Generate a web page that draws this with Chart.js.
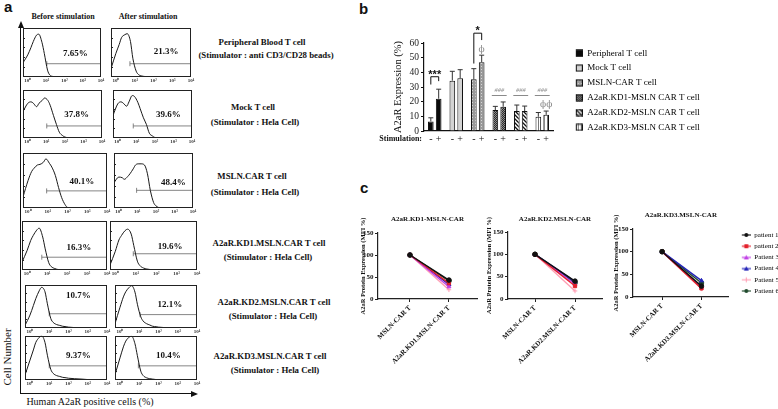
<!DOCTYPE html>
<html>
<head>
<meta charset="utf-8">
<title>A2aR expression</title>
<script src="https://cdn.jsdelivr.net/npm/chart.js@4.4.1/dist/chart.umd.min.js"></script>
<style>
  html, body { margin: 0; padding: 0; background: #fff; }
  body { position: relative; width: 778px; height: 409px; overflow: hidden; font-family: 'Liberation Serif', 'Times New Roman', serif; color: #111; }
  canvas { position: absolute; }
  .txt { position: absolute; white-space: nowrap; line-height: 1; transform: translate(-50%, -50%); }
  .letter { position: absolute; font-family: 'Liberation Sans', Arial, sans-serif; font-weight: bold; font-size: 15px; line-height: 1; }
  .line { position: absolute; background: #111; }
</style>
</head>
<body>
<div class="letter" style="left:4px;top:-1px">a</div>
<div class="letter" style="left:359px;top:1px">b</div>
<div class="letter" style="left:360px;top:180px">c</div>

<!-- panel a frame axes -->
<div class="line" style="left:20px;top:27px;width:1.2px;height:367px"></div>
<div class="line" style="left:20px;top:393px;width:172px;height:1.2px"></div>
<div style="position:absolute;left:17.6px;top:21px;width:0;height:0;border-left:3px solid transparent;border-right:3px solid transparent;border-bottom:7px solid #111"></div>
<div style="position:absolute;left:191px;top:390.6px;width:0;height:0;border-top:3px solid transparent;border-bottom:3px solid transparent;border-left:7px solid #111"></div>
<div class="txt" style="left:90px;top:402px;font-size:10px">Human A2aR positive cells (%)</div>
<div class="txt" style="left:7px;top:357px;font-size:11px;transform:translate(-50%,-50%) rotate(-90deg)">Cell Number</div>

<script>
var SERIF = "'Liberation Serif', 'Times New Roman', serif";
Chart.defaults.font.family = SERIF;
Chart.defaults.color = '#111';
Chart.defaults.animation = false;

//-------------
//- PANEL A : flow histograms -
//-------------
var channel    = [0.55, 1, 1.5, 2, 3, 4, 6, 8, 12, 16, 24, 35, 50, 75, 100, 200, 500, 1000, 10000];
var pbBefore   = [29, 45, 60, 72, 85, 87, 70, 48, 14, 4, 1, 0, 0, 0, 0, 0, 0, 0, 0];
var pbAfter    = [17, 48, 66, 80, 86, 88, 72, 38, 12, 5, 2, 1, 0, 0, 0, 0, 0, 0, 0];
var mockBefore = [55, 72, 75, 72, 65, 72, 78, 83, 78, 68, 47, 28, 12, 5, 2, 0, 0, 0, 0];
var mockAfter  = [47, 71, 75, 72, 66, 75, 88, 86, 74, 61, 42, 28, 10, 4, 1, 0, 0, 0, 0];
var mslnBefore = [20, 50, 66, 72, 78, 79, 83, 89, 81, 74, 59, 37, 19, 6, 1, 0, 0, 0, 0];
var mslnAfter  = [46, 56, 55, 52, 57, 62, 71, 78, 80, 80, 78, 62, 32, 10, 4, 0, 0, 0, 0];
var kd1Before  = [16, 40, 60, 70, 81, 85, 67, 43, 15, 7, 3, 1, 0, 0, 0, 0, 0, 0, 0];
var kd1After   = [10, 38, 61, 70, 80, 83, 73, 50, 18, 9, 4, 2, 1, 0, 0, 0, 0, 0, 0];
var kd2Before  = [6, 30, 52, 68, 86, 94, 84, 56, 22, 13, 8, 6, 4, 3, 2, 1, 0, 0, 0];
var kd2After   = [10, 48, 72, 84, 94, 98, 83, 55, 26, 16, 10, 7, 4, 3, 2, 1, 0, 0, 0];
var kd3Before  = [11, 45, 68, 85, 96, 100, 85, 56, 24, 15, 10, 8, 6, 5, 4, 3, 2, 1, 0];
var kd3After   = [12, 50, 75, 88, 97, 99, 82, 55, 20, 10, 5, 3, 2, 1, 0, 0, 0, 0, 0];

var pctBefore = ['7.65%', '37.8%', '40.1%', '16.3%', '10.7%', '9.37%'];
var pctAfter  = ['21.3%', '39.6%', '48.4%', '19.6%', '12.1%', '10.4%'];
var gateFromBefore  = [11, 10.5, 8.7, 5.4, 10, 10];
var gateFromAfter   = [5.6, 6.8, 9.1, 7.6, 11, 9];
var gateLevelBefore = [27, 25, 31, 26, 33, 32];
var gateLevelAfter  = [27, 25, 32, 33, 31, 32];

var cellLines = ['Peripheral Blood T cell', 'Mock T cell', 'MSLN.CAR T cell', 'A2aR.KD1.MSLN.CAR T cell', 'A2aR.KD2.MSLN.CAR T cell', 'A2aR.KD3.MSLN.CAR T cell'];
var stimulators = ['(Stimulator : anti CD3/CD28 beads)', '(Stimulator : Hela Cell)', '(Stimulator : Hela Cell)', '(Stimulator : Hela Cell)', '(Stimulator : Hela Cell)', '(Stimulator : Hela Cell)'];

// layout only
var frameBefore = [[23, 25, 78, 52], [23, 87, 79, 51], [23, 150, 84, 58], [22, 218, 85, 52], [25, 282, 82, 46], [25, 333, 82, 47]];
var frameAfter  = [[111, 25, 80, 52], [113, 87, 79, 51], [114, 150, 79, 58], [110, 218, 87, 52], [115, 282, 82, 46], [115, 333, 82, 47]];
var pctSpotBefore = [[0.67, 0.52], [0.68, 0.51], [0.70, 0.53], [0.67, 0.55], [0.65, 0.25], [0.65, 0.45]];
var pctSpotAfter  = [[0.69, 0.48], [0.70, 0.51], [0.75, 0.55], [0.69, 0.52], [0.67, 0.46], [0.65, 0.45]];
var rowLabelX = [[262, 266], [253, 255], [252, 255], [269, 268], [274, 273], [270, 275]];
var rowLabelY = [[42, 55], [107, 122], [176, 192], [243, 257], [302, 316], [356, 370]];

//-------------
//- PANEL B : A2aR expression bars -
//-------------
var groups = ['Peripheral T cell', 'Mock T cell', 'MSLN-CAR T cell', 'A2aR.KD1-MSLN CAR T cell', 'A2aR.KD2-MSLN CAR T cell', 'A2aR.KD3-MSLN CAR T cell'];
var stimulation = ['-', '+'];
var meanMinus = [6.5, 34.3, 35.2, 14.3, 13.6, 9.7];
var meanPlus  = [22, 35.9, 46.9, 16.5, 13.6, 11];
var errMinus  = [2.5, 6.4, 7.3, 2.5, 4.1, 2.9];
var errPlus   = [6.5, 5.9, 4.8, 3.3, 3.4, 2.6];
var sigGroups = [0, 2];
var sigMarks  = ['***', '*'];
var sigLevel  = [37, 66.7];
var sigLegLeft  = [31.7, 46];
var sigLegRight = [34, 62];
var hashGroups = [3, 4, 5];
var hashLevel  = 24.2;
var phiGroups = [2, 5];
var phiMarks  = ['\u03d5', '\u03d5\u03d5'];
var phiLevel  = [55.8, 18];

//-------------
//- PANEL C : MFI per patient -
//-------------
var patients = ['patient 1', 'patient 2', 'Patient 3', 'Patient 4', 'Patient 5', 'Patient 6'];
var mslnCar = [100, 100, 100, 100, 100, 100];
var kd1Car  = [43, 36, 28, 33, 21, 41];
var kd2Car  = [40, 29, 33, 39, 18, 36];
var kd3Car  = [24, 19, 22, 36, 18, 31];
var patientColors = ['#111111', '#e3202b', '#c13fe6', '#2323b8', '#ff9fb4', '#1f4a2c'];
var patientShapes = ['circle', 'rect', 'triangle', 'triangle', 'cross', 'circle'];

function addCanvas(left, top, w, h) {
    var c = document.createElement('canvas');
    c.width = Math.ceil(w); c.height = Math.ceil(h);
    c.style.left = left + 'px'; c.style.top = top + 'px';
    document.body.appendChild(c);
    return c;
}

function addText(text, x, y, size, bold) {
    var d = document.createElement('div');
    d.className = 'txt';
    d.textContent = text;
    d.style.left = x + 'px'; d.style.top = y + 'px';
    d.style.fontSize = size + 'px';
    if (bold) d.style.fontWeight = 'bold';
    document.body.appendChild(d);
}

// width Chart.js will give a vertical legend (padding + box + gap + text + 10)
function legendWidth(texts, size, boxW, pad) {
    var m = document.createElement('canvas').getContext('2d');
    m.font = size + 'px ' + SERIF;
    var w = 0;
    texts.forEach(function (t) { w = Math.max(w, m.measureText(t).width); });
    return pad + boxW + size / 2 + w + 10;
}

addText('Before stimulation', 63, 17, 8, true);
addText('After stimulation', 148, 17, 8, true);
cellLines.forEach(function (name, i) {
    addText(name, rowLabelX[i][0], rowLabelY[i][0], 8.8, true);
    addText(stimulators[i], rowLabelX[i][1], rowLabelY[i][1], 8.8, true);
});

// box round each histogram + the % label
var frameDeco = {
    id: 'frameDeco',
    afterDraw: function (chart, args, opts) {
        var a = chart.chartArea, ctx = chart.ctx;
        ctx.save();
        ctx.strokeStyle = '#222';
        ctx.lineWidth = 1;
        ctx.strokeRect(Math.round(a.left) + 0.5, Math.round(a.top) + 0.5, Math.round(a.right - a.left) - 1, Math.round(a.bottom - a.top) - 1);
        ctx.beginPath();
        for (var k = 1; k < 5; k++) {
            var yy = Math.round(a.top + (a.bottom - a.top) * k / 5) + 0.5;
            ctx.moveTo(a.left, yy); ctx.lineTo(a.left + 2, yy);
        }
        ctx.stroke();
        ctx.font = "bold 9px 'Liberation Serif'";
        ctx.fillStyle = '#111';
        ctx.textAlign = 'center';
        ctx.textBaseline = 'middle';
        ctx.fillText(opts.text, a.left + opts.fx * (a.right - a.left), a.top + opts.fy * (a.bottom - a.top));
        ctx.restore();
    }
};

var sup = ['\u2070', '\u00b9', '\u00b2', '\u00b3', '\u2074'];

function histogram(frame, counts, gateFrom, gateLevel, pct, spot) {
    var cv = addCanvas(frame[0] - 5, frame[1] - 2, frame[2] + 10, frame[3] + 11);
    new Chart(cv, {
        type: 'line',
        data: {
            datasets: [
                {
                    data: channel.map(function (c, i) { return {x: c, y: counts[i]}; }),
                    borderColor: '#1a1a1a', borderWidth: 1, pointRadius: 0,
                    cubicInterpolationMode: 'monotone', fill: false
                },
                {
                    data: [{x: gateFrom, y: gateLevel}, {x: 10000, y: gateLevel}],
                    borderColor: '#666', borderWidth: 0.8,
                    pointStyle: 'line', pointRotation: 90, pointRadius: [2.5, 0],
                    pointBorderColor: '#666', pointBorderWidth: 0.8
                }
            ]
        },
        options: {
            responsive: false,
            events: [],
            layout: { padding: { left: 5, right: 5, top: 2, bottom: 0 } },
            scales: {
                x: {
                    type: 'logarithmic', min: 0.55, max: 10000,
                    afterBuildTicks: function (s) { s.ticks = [1, 10, 100, 1000, 10000].map(function (v) { return {value: v}; }); },
                    afterFit: function (s) { s.height = 9; s.paddingLeft = 0; s.paddingRight = 0; },
                    ticks: {
                        callback: function (v, i) { return '10' + sup[i]; },
                        autoSkip: false, maxRotation: 0, padding: 1, color: '#333',
                        font: { size: 5, weight: 'bold' }
                    },
                    grid: { display: false, drawTicks: false },
                    border: { display: false }
                },
                y: { display: false, min: 0, max: 100 }
            },
            plugins: {
                legend: { display: false },
                tooltip: { enabled: false },
                frameDeco: { text: pct, fx: spot[0], fy: spot[1] }
            }
        },
        plugins: [frameDeco]
    });
}

var histBefore = [pbBefore, mockBefore, mslnBefore, kd1Before, kd2Before, kd3Before];
var histAfter  = [pbAfter, mockAfter, mslnAfter, kd1After, kd2After, kd3After];
for (var r = 0; r < 6; r++) {
    histogram(frameBefore[r], histBefore[r], gateFromBefore[r], gateLevelBefore[r], pctBefore[r], pctSpotBefore[r]);
    histogram(frameAfter[r], histAfter[r], gateFromAfter[r], gateLevelAfter[r], pctAfter[r], pctSpotAfter[r]);
}

//-------------
//- bar fills -
//-------------
function tile(kind) {
    var c = document.createElement('canvas');
    var g = c.getContext('2d');
    if (kind === 'dots') {
        c.width = 3; c.height = 3;
        g.fillStyle = '#9a9a9a'; g.fillRect(0, 0, 3, 3);
        g.fillStyle = '#d6d6d6'; g.fillRect(1, 1, 1, 1);
    } else if (kind === 'check') {
        c.width = 2; c.height = 2;
        g.fillStyle = '#2a2a2a'; g.fillRect(0, 0, 2, 2);
        g.fillStyle = '#8c8c8c'; g.fillRect(0, 0, 1, 1); g.fillRect(1, 1, 1, 1);
    } else if (kind === 'diag') {
        c.width = 4; c.height = 4;
        g.fillStyle = '#fff'; g.fillRect(0, 0, 4, 4);
        g.strokeStyle = '#111'; g.lineWidth = 1.3;
        g.beginPath();
        g.moveTo(-1, -1); g.lineTo(5, 5);
        g.moveTo(3, -1); g.lineTo(5, 1);
        g.moveTo(-1, 3); g.lineTo(1, 5);
        g.stroke();
    } else {
        c.width = 3; c.height = 3;
        g.fillStyle = '#fff'; g.fillRect(0, 0, 3, 3);
        g.fillStyle = '#777'; g.fillRect(1, 0, 1, 3);
    }
    return document.createElement('canvas').getContext('2d').createPattern(c, 'repeat');
}
var groupFills = ['#0a0a0a', '#d3d3d3', tile('dots'), tile('check'), tile('diag'), tile('vert')];

function swatch(fill) {
    var c = document.createElement('canvas');
    c.width = 24; c.height = 8;
    var g = c.getContext('2d');
    g.fillStyle = fill; g.fillRect(17, 0.5, 7, 7);
    g.strokeStyle = '#111'; g.lineWidth = 1; g.strokeRect(17.5, 1, 6, 6);
    return c;
}

var barExtras = {
    id: 'barExtras',
    afterDatasetsDraw: function (chart) {
        var ctx = chart.ctx, ys = chart.scales.y, area = chart.chartArea;
        var metas = [chart.getDatasetMeta(0), chart.getDatasetMeta(1)];
        var means = [meanMinus, meanPlus], errs = [errMinus, errPlus];
        ctx.save();
        // error bars (upper whisker only)
        ctx.lineWidth = 1; ctx.strokeStyle = '#333';
        metas.forEach(function (meta, d) {
            meta.data.forEach(function (bar, i) {
                var top = ys.getPixelForValue(means[d][i] + errs[d][i]);
                ctx.beginPath();
                ctx.moveTo(bar.x, bar.y); ctx.lineTo(bar.x, top);
                ctx.moveTo(bar.x - 2.5, top); ctx.lineTo(bar.x + 2.5, top);
                ctx.stroke();
            });
        });
        // significance brackets
        ctx.strokeStyle = '#111'; ctx.fillStyle = '#111';
        ctx.textAlign = 'center';
        sigGroups.forEach(function (g, k) {
            var xl = metas[0].data[g].x, xr = metas[1].data[g].x;
            var yt = ys.getPixelForValue(sigLevel[k]);
            ctx.beginPath();
            ctx.moveTo(xl, ys.getPixelForValue(sigLegLeft[k]));
            ctx.lineTo(xl, yt); ctx.lineTo(xr, yt);
            ctx.lineTo(xr, ys.getPixelForValue(sigLegRight[k]));
            ctx.stroke();
            ctx.font = "bold 11px 'Liberation Sans'";
            ctx.textBaseline = 'alphabetic';
            ctx.fillText(sigMarks[k], (xl + xr) / 2, yt + 1);
        });
        // ### against MSLN-CAR
        ctx.strokeStyle = '#8a8a8a'; ctx.fillStyle = '#8a8a8a';
        hashGroups.forEach(function (g) {
            var xl = metas[0].data[g].x - 3.5, xr = metas[1].data[g].x + 3.5;
            var yy = ys.getPixelForValue(hashLevel);
            ctx.beginPath(); ctx.moveTo(xl, yy); ctx.lineTo(xr, yy); ctx.stroke();
            ctx.font = "italic 6.5px 'Liberation Serif'";
            ctx.textBaseline = 'alphabetic';
            ctx.fillText('###', (xl + xr) / 2, yy - 3.5);
        });
        ctx.font = "9px 'DejaVu Serif'";
        ctx.textBaseline = 'middle';
        phiGroups.forEach(function (g, k) {
            ctx.fillText(phiMarks[k], metas[1].data[g].x, ys.getPixelForValue(phiLevel[k]));
        });
        // stimulation - / + under every bar
        ctx.fillStyle = '#111';
        ctx.font = "10px 'Liberation Serif'";
        metas.forEach(function (meta, d) {
            meta.data.forEach(function (bar) {
                ctx.fillText(stimulation[d], bar.x, area.bottom + 8);
            });
        });
        ctx.textAlign = 'right';
        ctx.font = "bold 8px 'Liberation Serif'";
        ctx.fillText('Stimulation:', area.left - 2, area.bottom + 8);
        ctx.restore();
    }
};

// chart area right edge at x=553, legend sits to its right
var barLegendW = legendWidth(groups, 9, 24, 5.8);
var barCanvas = addCanvas(360, 20, 553 - 360 + barLegendW + 5, 140);
new Chart(barCanvas, {
    type: 'bar',
    data: {
        labels: groups,
        datasets: [
            { label: stimulation[0], data: meanMinus, backgroundColor: groupFills, borderColor: '#111', borderWidth: 1, categoryPercentage: 0.73, barPercentage: 0.72 },
            { label: stimulation[1], data: meanPlus, backgroundColor: groupFills, borderColor: '#111', borderWidth: 1, categoryPercentage: 0.73, barPercentage: 0.72 }
        ]
    },
    options: {
        responsive: false,
        events: [],
        layout: { padding: { left: 31.7, right: barCanvas.width - (553 - 360) - barLegendW, top: 23, bottom: 15 } },
        scales: {
            x: {
                ticks: { display: false },
                grid: { display: false, drawTicks: false },
                border: { color: '#111', width: 1.2 },
                afterFit: function (s) { s.height = 14; s.paddingLeft = 0; s.paddingRight = 0; }
            },
            y: {
                min: 0, max: 60,
                ticks: { stepSize: 10, padding: 2, color: '#222', font: { size: 9.5 } },
                grid: { drawOnChartArea: false, tickLength: 3, color: '#111' },
                border: { color: '#111', width: 1.2 },
                title: { display: true, text: 'A2aR Expression (%)', padding: 0, color: '#111', font: { size: 10.5 } },
                afterFit: function (s) { s.width = 32.3; s.paddingTop = 0; s.paddingBottom = 0; }
            }
        },
        plugins: {
            tooltip: { enabled: false },
            legend: {
                position: 'right', align: 'start', maxWidth: 1000,
                labels: {
                    usePointStyle: true, pointStyleWidth: 24, padding: 5.8, color: '#222',
                    font: { size: 9 },
                    generateLabels: function () {
                        return groups.map(function (name, i) {
                            return { text: name, pointStyle: swatch(groupFills[i]), fillStyle: '#000', strokeStyle: '#000', lineWidth: 0, hidden: false, index: i };
                        });
                    }
                }
            }
        }
    },
    plugins: [barExtras]
});

//-------------
//- PANEL C line charts -
//-------------
function patientIcon(i) {
    var c = document.createElement('canvas');
    c.width = 18; c.height = 8;
    var g = c.getContext('2d');
    var col = patientColors[i], s = patientShapes[i];
    g.strokeStyle = col; g.fillStyle = col; g.lineWidth = 1.1;
    g.beginPath(); g.moveTo(9, 4); g.lineTo(18, 4); g.stroke();
    g.beginPath();
    if (s === 'circle') { g.arc(13.5, 4, 2, 0, Math.PI * 2); g.fill(); }
    else if (s === 'rect') { g.fillRect(11.5, 2, 4, 4); }
    else if (s === 'triangle') { g.moveTo(13.5, 1.5); g.lineTo(16, 6); g.lineTo(11, 6); g.closePath(); g.fill(); }
    else { g.moveTo(13.5, 1.5); g.lineTo(13.5, 6.5); g.stroke(); }
    return c;
}

function mfiChart(geo, title, kdLabel, kdVals, withLegend) {
    var cv = addCanvas(geo.left, geo.top, geo.width, geo.height);
    var catLabels = ['MSLN-CAR T', kdLabel];
    var sets = patients.map(function (p, i) {
        return {
            label: p,
            data: [{x: 0, y: mslnCar[i]}, {x: 1, y: kdVals[i]}],
            borderColor: patientColors[i], backgroundColor: patientColors[i],
            pointStyle: patientShapes[i], pointRadius: 2.3, pointBorderWidth: 1, borderWidth: 1.4
        };
    });
    var legendOpts = { display: false };
    if (withLegend) {
        legendOpts = {
            position: 'right', align: 'center', maxWidth: 1000,
            labels: {
                usePointStyle: true, pointStyleWidth: 18, padding: 4.2, color: '#222',
                font: { size: 7 },
                generateLabels: function () {
                    return patients.map(function (p, i) {
                        return { text: p, pointStyle: patientIcon(i), fillStyle: patientColors[i], strokeStyle: patientColors[i], lineWidth: 0, hidden: false, datasetIndex: i };
                    });
                }
            }
        };
    }
    new Chart(cv, {
        type: 'line',
        data: { datasets: sets },
        options: {
            responsive: false,
            events: [],
            layout: { padding: { left: geo.padLeft, right: geo.padRight, top: 0, bottom: geo.padBottom } },
            scales: {
                x: {
                    type: 'linear', min: geo.xMin, max: geo.xMax,
                    afterBuildTicks: function (s) { s.ticks = [{value: 0}, {value: 1}]; },
                    afterFit: function (s) { s.height = geo.xHeight; s.paddingLeft = 0; s.paddingRight = 0; },
                    ticks: {
                        callback: function (v) { return catLabels[v]; },
                        minRotation: 45, maxRotation: 45, autoSkip: false, padding: 2, color: '#111',
                        font: { size: 7, weight: 'bold' }
                    },
                    grid: { drawOnChartArea: false, tickLength: 3, color: '#222' },
                    border: { color: '#222', width: 1.2 }
                },
                y: {
                    min: 0, max: 150,
                    ticks: { stepSize: 50, padding: 1.5, color: '#111', font: { size: 7, weight: 'bold' } },
                    grid: { drawOnChartArea: false, tickLength: 3, color: '#222' },
                    border: { color: '#222', width: 1.2 },
                    title: { display: true, text: 'A2aR Protein Expression (MFI %)', padding: 0, color: '#111', font: { size: 6.5, weight: 'bold' } },
                    afterFit: function (s) { s.width = geo.yWidth; s.paddingTop = 0; s.paddingBottom = 0; }
                }
            },
            plugins: {
                tooltip: { enabled: false },
                legend: legendOpts,
                title: {
                    display: true, text: title, fullSize: false, color: '#111',
                    font: { size: 7, weight: 'bold' },
                    padding: { top: geo.titleTop, bottom: geo.titleBottom }
                }
            }
        }
    });
}

mfiChart({ left: 340, top: 200, width: 157, height: 176, padLeft: 19.1, padRight: 20, yWidth: 18.9, xMin: -0.82, xMax: 1.72, titleTop: 14.8, titleBottom: 9.8, xHeight: 77, padBottom: 0 },
    'A2aR.KD1-MSLN-CAR', 'A2aR.KD1.MSLN-CAR T', kd1Car, false);
mfiChart({ left: 470, top: 200, width: 152, height: 176, padLeft: 15.1, padRight: 20, yWidth: 22.9, xMin: -0.675, xMax: 1.675, titleTop: 14.8, titleBottom: 8.8, xHeight: 77, padBottom: 0 },
    'A2aR.KD2.MSLN-CAR', 'A2aR.KD2.MSLN-CAR T', kd2Car, false);
var mfiLegendW = legendWidth(patients, 7, 18, 4.2);
mfiChart({ left: 600, top: 160, width: 728 - 600 + mfiLegendW + 2, height: 210, padLeft: 12.1, padRight: 2, yWidth: 20.9, xMin: -0.74, xMax: 1.69, titleTop: 50.8, titleBottom: 9.8, xHeight: 69, padBottom: 4 },
    'A2aR.KD3.MSLN-CAR', 'A2aR.KD3.MSLN-CAR T', kd3Car, true);
</script>
</body>
</html>
